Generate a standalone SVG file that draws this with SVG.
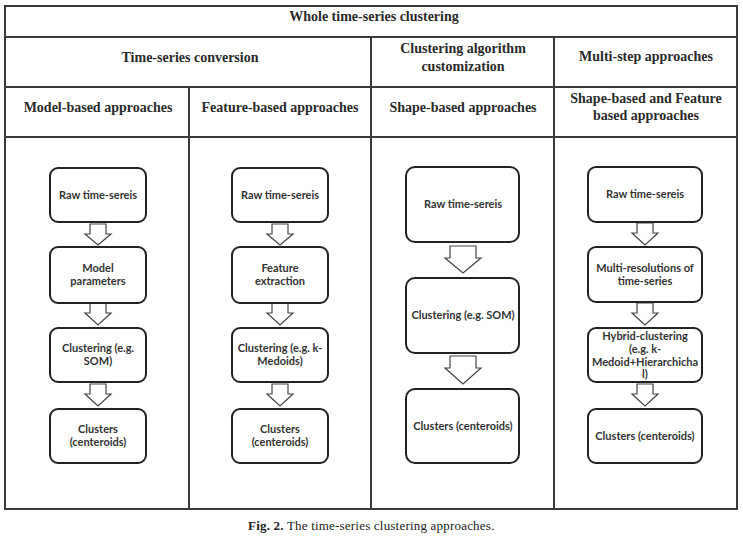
<svg xmlns="http://www.w3.org/2000/svg" width="743" height="539" viewBox="0 0 743 539">
<style>
.grid{stroke:#3a3a3a;stroke-width:2;fill:none}
.hd{font-family:"Liberation Serif",serif;font-weight:bold;font-size:14px;fill:#2a2a2a;text-anchor:middle}
.box{fill:#fff;stroke:#222;stroke-width:2}
.lb{font-family:Lato,"Noto Sans",sans-serif;font-weight:bold;font-size:11px;fill:#333;text-anchor:middle}
.arr{fill:#fff;stroke:#444;stroke-width:1.2}
.cap{font-family:"Liberation Serif",serif;font-size:13px;letter-spacing:0.2px;fill:#222}
</style>
<rect width="743" height="539" fill="#fff"/>
<g id="table">
<rect class="grid" x="5" y="6" width="732" height="503"/>
<line class="grid" x1="5" y1="37" x2="737" y2="37"/>
<line class="grid" x1="5" y1="87" x2="737" y2="87"/>
<line class="grid" x1="5" y1="137" x2="737" y2="137"/>
<line class="grid" x1="189" y1="87" x2="189" y2="509"/>
<line class="grid" x1="371" y1="37" x2="371" y2="509"/>
<line class="grid" x1="554" y1="37" x2="554" y2="509"/>
</g>
<g id="headers">
<text class="hd" x="374" y="21">Whole time-series clustering</text>
<text class="hd" x="190" y="62">Time-series conversion</text>
<text class="hd" x="463" y="53">Clustering algorithm</text>
<text class="hd" x="463" y="71">customization</text>
<text class="hd" x="646" y="61">Multi-step approaches</text>
<text class="hd" x="98" y="112">Model-based approaches</text>
<text class="hd" x="280" y="112">Feature-based approaches</text>
<text class="hd" x="463" y="112">Shape-based approaches</text>
<text class="hd" x="646" y="103">Shape-based and Feature</text>
<text class="hd" x="646" y="120">based approaches</text>
</g>
<g id="connectors">
<path class="arr" d="M90,224H106V234H111L98,245L85,234H90Z"/>
<path class="arr" d="M90,303H106V313H111L98,325L85,313H90Z"/>
<path class="arr" d="M90,384H106V394H111L98,406L85,394H90Z"/>
<path class="arr" d="M272,224H288V234H293L280,245L267,234H272Z"/>
<path class="arr" d="M272,303H288V313H293L280,325L267,313H272Z"/>
<path class="arr" d="M272,384H288V394H293L280,406L267,394H272Z"/>
<path class="arr" d="M450,246H476V258H481L463,273L445,258H450Z"/>
<path class="arr" d="M450,356H476V368H481L463,384L445,368H450Z"/>
<path class="arr" d="M637,223H653V233H658L645,245L632,233H637Z"/>
<path class="arr" d="M637,303H653V313H658L645,325L632,313H637Z"/>
<path class="arr" d="M637,384H653V394H658L645,406L632,394H637Z"/>
</g>
<g id="c1n1"><rect class="box" x="50" y="168" width="96" height="54" rx="8"/><text class="lb" x="98" y="199">Raw time-sereis</text></g>
<g id="c1n2"><rect class="box" x="50" y="247" width="96" height="56" rx="8"/><text class="lb" x="98" y="272">Model</text><text class="lb" x="98" y="285">parameters</text></g>
<g id="c1n3"><rect class="box" x="50" y="328" width="96" height="54" rx="8"/><text class="lb" x="98" y="352">Clustering (e.g.</text><text class="lb" x="98" y="365">SOM)</text></g>
<g id="c1n4"><rect class="box" x="50" y="409" width="96" height="54" rx="8"/><text class="lb" x="98" y="433">Clusters</text><text class="lb" x="98" y="446">(centeroids)</text></g>
<g id="c2n1"><rect class="box" x="232" y="168" width="96" height="54" rx="8"/><text class="lb" x="280" y="199">Raw time-sereis</text></g>
<g id="c2n2"><rect class="box" x="232" y="247" width="96" height="56" rx="8"/><text class="lb" x="280" y="272">Feature</text><text class="lb" x="280" y="285">extraction</text></g>
<g id="c2n3"><rect class="box" x="232" y="328" width="96" height="54" rx="8"/><text class="lb" x="280" y="352">Clustering (e.g. k-</text><text class="lb" x="280" y="365">Medoids)</text></g>
<g id="c2n4"><rect class="box" x="232" y="409" width="96" height="54" rx="8"/><text class="lb" x="280" y="433">Clusters</text><text class="lb" x="280" y="446">(centeroids)</text></g>
<g id="c3n1"><rect class="box" x="406" y="167" width="113" height="75" rx="9"/><text class="lb" x="463" y="208">Raw time-sereis</text></g>
<g id="c3n2"><rect class="box" x="406" y="278" width="113" height="75" rx="9"/><text class="lb" x="463" y="319">Clustering (e.g. SOM)</text></g>
<g id="c3n3"><rect class="box" x="406" y="389" width="113" height="74" rx="9"/><text class="lb" x="463" y="430">Clusters (centeroids)</text></g>
<g id="c4n1"><rect class="box" x="588" y="167" width="114" height="55" rx="8"/><text class="lb" x="645" y="198">Raw time-sereis</text></g>
<g id="c4n2"><rect class="box" x="588" y="247" width="114" height="55" rx="8"/><text class="lb" x="645" y="272">Multi-resolutions of</text><text class="lb" x="645" y="285">time-series</text></g>
<g id="c4n3"><rect class="box" x="588" y="328" width="114" height="54" rx="8"/><text class="lb" x="645" y="340">Hybrid-clustering</text><text class="lb" x="645" y="353">(e.g. k-</text><text class="lb" x="645" y="365.5">Medoid+Hierarchicha</text><text class="lb" x="645" y="378">l)</text></g>
<g id="c4n4"><rect class="box" x="588" y="409" width="114" height="54" rx="8"/><text class="lb" x="645" y="440">Clusters (centeroids)</text></g>
<g id="caption"><text class="cap" x="248" y="530"><tspan font-weight="bold">Fig. 2.</tspan> The time-series clustering approaches.</text></g>
</svg>
